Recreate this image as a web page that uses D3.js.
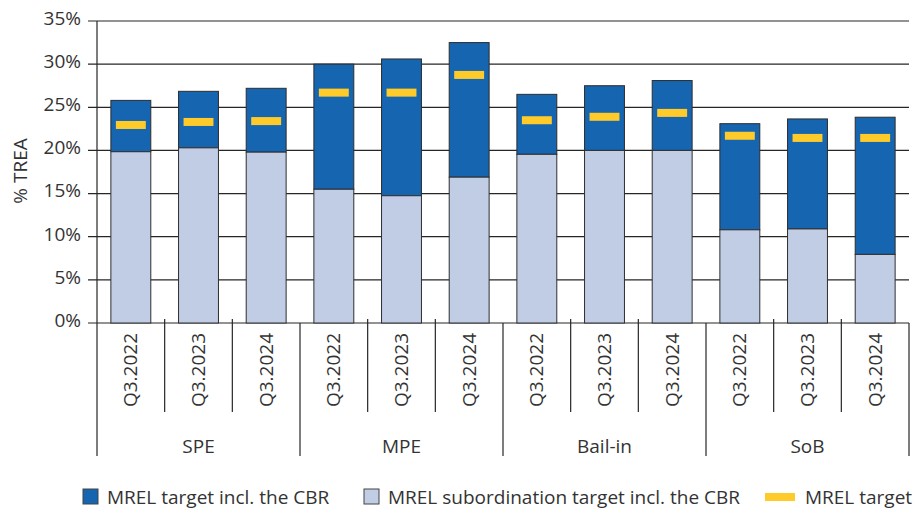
<!DOCTYPE html>
<html lang="en">
<head>
    <meta charset="UTF-8">
    <title>MREL targets</title>
    <script src="https://d3js.org/d3.v7.min.js"></script>
    <style>
        html, body {
            margin: 0;
            padding: 0;
            background: #ffffff;
            overflow: hidden;
        }
        svg {
            display: block;
            font-family: "Open Sans", sans-serif;
            font-size: 19px;
        }
        .txt { fill: #333333; }
        .grid line { stroke: #262626; stroke-width: 1.2px; }
        .bar { stroke: #2e2e2e; stroke-width: 1px; }
        .sep { stroke: #262626; stroke-width: 1.2px; }
    </style>
</head>
<body>
    <svg width="917" height="511"></svg>

    <script>
        // data
        const groups = ["SPE", "MPE", "Bail-in", "SoB"];
        const periods = ["Q3.2022", "Q3.2023", "Q3.2024"];
        const subordination = [19.85, 20.3, 19.8, 15.5, 14.75, 16.9, 19.55, 20.0, 20.0, 10.8, 10.9, 7.95];
        const mrelTotal = [25.8, 26.85, 27.2, 30.0, 30.6, 32.5, 26.5, 27.5, 28.1, 23.1, 23.65, 23.85];
        const mrelTarget = [22.95, 23.3, 23.4, 26.7, 26.7, 28.75, 23.5, 23.9, 24.35, 21.7, 21.45, 21.45];
        const yTicks = [0, 5, 10, 15, 20, 25, 30, 35];

        const colors = {
            total: "#1565b0",
            sub: "#c1cce5",
            target: "#ffcb2b"
        };

        const svg = d3.select("svg");
        const plotLeft = 97, plotRight = 909, plotTop = 21, plotBottom = 323;

        const keys = [];
        groups.forEach(g => periods.forEach(p => keys.push(g + "|" + p)));

        const x = d3.scaleBand()
            .domain(keys)
            .range([plotLeft, plotRight])
            .paddingInner(0.41)
            .paddingOuter(0.205);
        const step = x.step();

        const y = d3.scaleLinear().domain([0, 35]).range([plotBottom, plotTop]);

        // gridlines + y ticks
        const grid = svg.append("g").attr("class", "grid");
        grid.selectAll("line")
            .data(yTicks)
            .enter().append("line")
            .attr("x1", plotLeft - 9)
            .attr("x2", plotRight)
            .attr("y1", d => y(d))
            .attr("y2", d => y(d));

        svg.append("g").selectAll("text")
            .data(yTicks)
            .enter().append("text")
            .attr("class", "txt")
            .attr("x", plotLeft - 16)
            .attr("y", d => y(d))
            .attr("dy", "0.2em")
            .attr("text-anchor", "end")
            .text(d => d + "%");

        // y axis line
        svg.append("line").attr("class", "sep")
            .attr("x1", plotLeft).attr("x2", plotLeft)
            .attr("y1", plotTop).attr("y2", plotBottom);

        svg.append("text")
            .attr("class", "txt")
            .attr("transform", "translate(27,171) rotate(-90)")
            .attr("text-anchor", "middle")
            .text("% TREA");

        // bars
        const bars = svg.append("g");
        bars.selectAll(".total")
            .data(keys)
            .enter().append("rect")
            .attr("class", "bar")
            .attr("x", d => x(d))
            .attr("width", x.bandwidth())
            .attr("y", (d, i) => y(mrelTotal[i]))
            .attr("height", (d, i) => y(subordination[i]) - y(mrelTotal[i]))
            .attr("fill", colors.total);

        bars.selectAll(".sub")
            .data(keys)
            .enter().append("rect")
            .attr("class", "bar")
            .attr("x", d => x(d))
            .attr("width", x.bandwidth())
            .attr("y", (d, i) => y(subordination[i]))
            .attr("height", (d, i) => y(0) - y(subordination[i]))
            .attr("fill", colors.sub);

        bars.selectAll(".target")
            .data(keys)
            .enter().append("rect")
            .attr("x", d => x(d) + 5)
            .attr("width", x.bandwidth() - 10)
            .attr("y", (d, i) => y(mrelTarget[i]) - 4)
            .attr("height", 8)
            .attr("fill", colors.target);

        // category axis
        const cat = svg.append("g");
        d3.range(keys.length + 1).forEach(i => {
            const xx = plotLeft + i * step;
            const major = i % periods.length === 0;
            cat.append("line").attr("class", "sep")
                .attr("x1", xx).attr("x2", xx)
                .attr("y1", major ? plotBottom : plotBottom - 4)
                .attr("y2", major ? 456 : 412);
        });

        cat.selectAll(".period")
            .data(keys)
            .enter().append("text")
            .attr("class", "txt")
            .attr("transform", d => `translate(${x(d) + x.bandwidth() / 2},333) rotate(-90)`)
            .attr("dy", "0.35em")
            .attr("text-anchor", "end")
            .text(d => d.split("|")[1]);

        cat.selectAll(".group")
            .data(groups)
            .enter().append("text")
            .attr("class", "txt")
            .attr("x", (d, i) => plotLeft + (i * 3 + 1.5) * step)
            .attr("y", 453)
            .attr("text-anchor", "middle")
            .text(d => d);

        // legend
        const legend = svg.append("g");
        const items = [
            { label: "MREL target incl. the CBR", color: colors.total, kind: "box", x: 83 },
            { label: "MREL subordination target incl. the CBR", color: colors.sub, kind: "box", x: 364 },
            { label: "MREL target", color: colors.target, kind: "line", x: 765 }
        ];
        items.forEach(it => {
            if (it.kind === "box") {
                legend.append("rect")
                    .attr("x", it.x).attr("y", 489)
                    .attr("width", 15).attr("height", 15)
                    .attr("fill", it.color)
                    .attr("stroke", "#444").attr("stroke-width", 1);
                legend.append("text").attr("class", "txt")
                    .attr("x", it.x + 24).attr("y", 504)
                    .text(it.label);
            } else {
                legend.append("rect")
                    .attr("x", it.x).attr("y", 493)
                    .attr("width", 30).attr("height", 8)
                    .attr("fill", it.color);
                legend.append("text").attr("class", "txt")
                    .attr("x", it.x + 40).attr("y", 504)
                    .text(it.label);
            }
        });
    </script>
</body>
</html>
